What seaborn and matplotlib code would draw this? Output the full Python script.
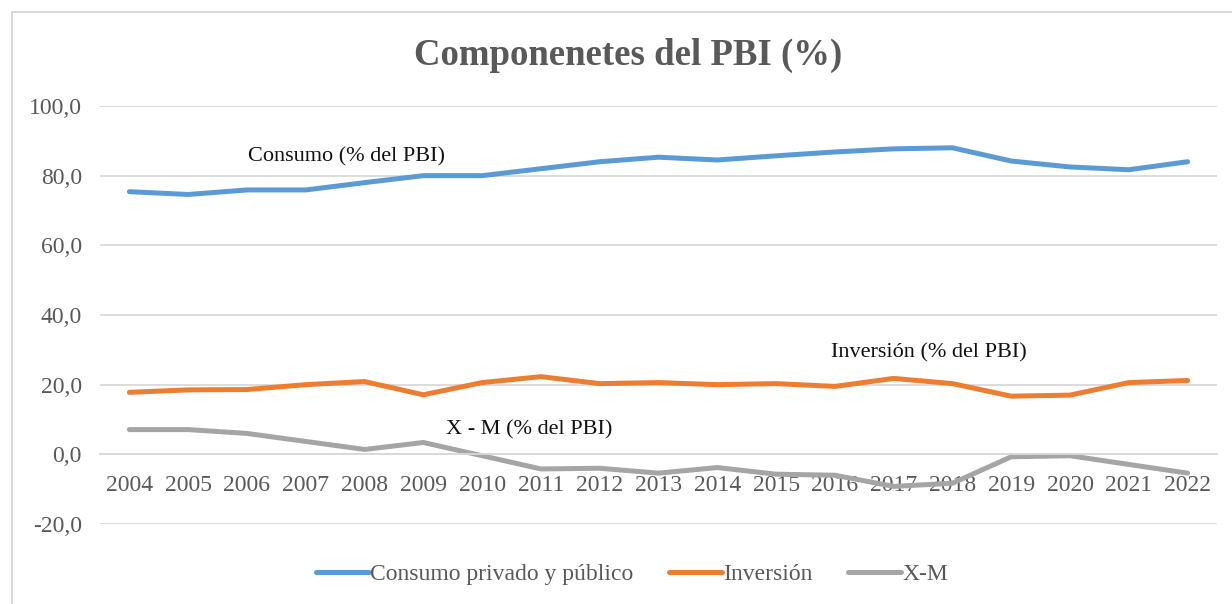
import matplotlib.pyplot as plt
import matplotlib.patches as mpatches
import pandas as pd
import seaborn as sns

# Data
years = list(range(2004, 2023))
consumo = [75.4, 74.6, 75.9, 75.9, 78.0, 80.0, 80.0, 82.0, 84.0, 85.3, 84.5, 85.7, 86.8, 87.7, 88.0, 84.2, 82.5, 81.7, 84.0]
inversion = [17.8, 18.5, 18.6, 20.0, 20.9, 17.1, 20.6, 22.3, 20.3, 20.6, 20.0, 20.3, 19.5, 21.8, 20.3, 16.7, 17.0, 20.6, 21.2]
x_m = [7.1, 7.1, 6.0, 3.7, 1.4, 3.4, -0.4, -4.2, -4.0, -5.4, -3.8, -5.7, -6.0, -9.2, -8.3, -0.7, -0.4, -2.9, -5.4]

series_names = ["Consumo privado y público", "Inversión", "X-M"]
colors = ["#5B9BD5", "#ED7D31", "#A5A5A5"]
y_ticks = [-20, 0, 20, 40, 60, 80, 100]

df = pd.DataFrame({
    "year": years * 3,
    "value": consumo + inversion + x_m,
    "serie": [series_names[0]] * 19 + [series_names[1]] * 19 + [series_names[2]] * 19,
})

sns.set_style("white")
plt.rcParams["font.family"] = ["Liberation Serif", "DejaVu Serif"]
text_grey = "#595959"

fig = plt.figure(figsize=(12.32, 6.04), dpi=100)
ax = fig.add_axes([100 / 1232, 1 - 524 / 604, 1117 / 1232, 418 / 604])

sns.lineplot(data=df, x="year", y="value", hue="serie", palette=colors,
             linewidth=3.6, ax=ax, legend=False)

ax.set_xlim(2003.5, 2022.5)
ax.set_ylim(-20, 100)
ax.set_yticks(y_ticks)
ax.set_yticklabels([f"{v:.1f}".replace(".", ",") for v in y_ticks])
ax.set_xticks(years)
ax.set_xticklabels([str(y) for y in years])
ax.grid(axis="y", color="#D9D9D9", linewidth=1.3)
ax.set_axisbelow(True)
for side in ["left", "right", "top"]:
    ax.spines[side].set_visible(False)
ax.spines["bottom"].set_position(("data", 0))
ax.spines["bottom"].set_color("#D9D9D9")
ax.spines["bottom"].set_linewidth(1.3)
ax.tick_params(axis="both", length=0, labelsize=17, labelcolor=text_grey)
ax.tick_params(axis="x", pad=15)
ax.tick_params(axis="y", pad=13)
ax.set_xlabel("")
ax.set_ylabel("")

# Series annotations
ax.text(2007.7, 82.5, "Consumo (% del PBI)", fontsize=16, color="#111111", ha="center", va="bottom")
ax.text(2017.6, 26.3, "Inversión (% del PBI)", fontsize=16, color="#111111", ha="center", va="bottom")
ax.text(2010.8, 4.4, "X - M (% del PBI)", fontsize=16, color="#111111", ha="center", va="bottom")

fig.text(628 / 1232, 1 - 55 / 604, "Componenetes del PBI (%)", fontsize=26.5, fontweight="bold",
         color=text_grey, ha="center", va="center")

handles = [plt.Line2D([], [], color=c, linewidth=3.6) for c in colors]
fig.legend(handles, series_names, loc="center", bbox_to_anchor=(632 / 1232, 1 - 574 / 604),
           ncol=3, frameon=False, fontsize=17, labelcolor=text_grey,
           handlelength=2.25, handletextpad=0.05, columnspacing=1.5)

# chart border
fig.patches.append(mpatches.Rectangle((12 / 1232, -0.1), 1.2, 1 - 12 / 604 + 0.1,
                                      transform=fig.transFigure, fill=False,
                                      edgecolor="#D9D9D9", linewidth=1.5))

fig.savefig("out.png", dpi=100)
